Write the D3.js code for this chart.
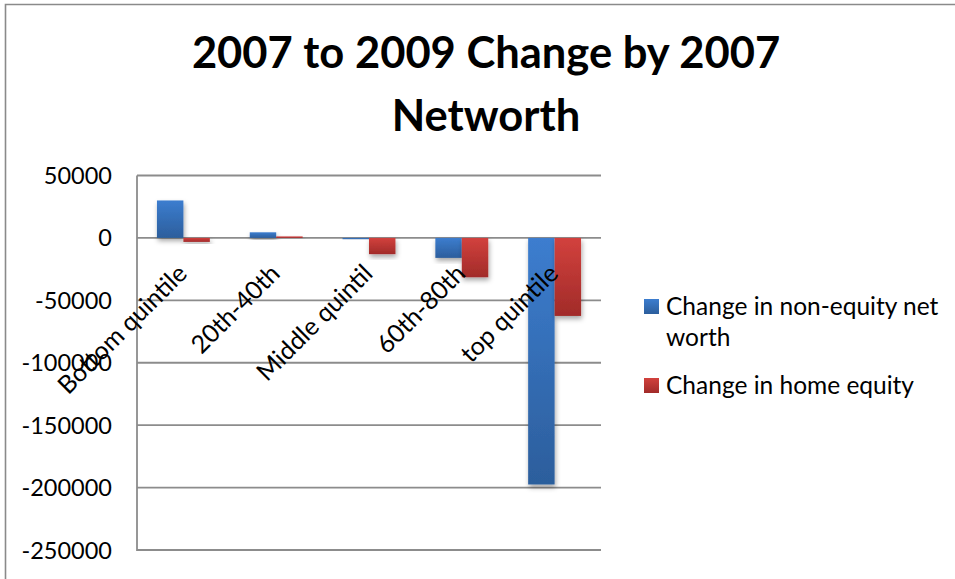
<!DOCTYPE html>
<html>
<head>
<meta charset="utf-8">
<script src="https://d3js.org/d3.v7.min.js"></script>
<style>
  html, body { margin: 0; padding: 0; background: #fff; }
  svg { display: block; font-family: Lato, "Open Sans", sans-serif; }
</style>
</head>
<body>
<svg id="chart" width="955" height="579"></svg>
<script>
// Quintiles of 2007 net worth
const categories = ["Bottom quintile", "20th-40th", "Middle quintil", "60th-80th", "top quintile"];
// Change from 2007 to 2009, dollars
const nonEquityChange = [30000, 4500, -1000, -16000, -197500];
const homeEquityChange = [-3200, 1200, -13000, -31500, -62500];
const seriesNames = ["Change in non-equity net worth", "Change in home equity"];
const yTicks = [50000, 0, -50000, -100000, -150000, -200000, -250000];
const titleLines = ["2007 to 2009 Change by 2007", "Networth"];

const svg = d3.select("#chart");
const plot = { left: 137, right: 601, top: 175.5, bottom: 550 };

const defs = svg.append("defs");
function gradient(id, top, bottom) {
  const g = defs.append("linearGradient").attr("id", id)
    .attr("x1", 0).attr("y1", 0).attr("x2", 0).attr("y2", 1);
  g.append("stop").attr("offset", "0%").attr("stop-color", top);
  g.append("stop").attr("offset", "100%").attr("stop-color", bottom);
}
gradient("gBlue", "#3c7dcf", "#2c5e9c");
gradient("gRed", "#d2413d", "#a12b29");
const colors = ["url(#gBlue)", "url(#gRed)"];

const shadow = defs.append("filter").attr("id", "barShadow")
  .attr("x", "-30%").attr("y", "-30%").attr("width", "160%").attr("height", "160%");
shadow.append("feDropShadow").attr("dx", 1).attr("dy", 3).attr("stdDeviation", 2.5)
  .attr("flood-color", "#000").attr("flood-opacity", 0.35);

// outer chart frame
svg.append("path").attr("d", "M5.5,579 V4.5 H955")
  .attr("fill", "none").attr("stroke", "#8a8a8a").attr("stroke-width", 1.6);

const y = d3.scaleLinear().domain([-250000, 50000]).range([plot.bottom, plot.top]);
const x0 = d3.scaleBand().domain(categories).range([plot.left, plot.right])
  .paddingInner(0.43).paddingOuter(0.215);
const x1 = d3.scaleBand().domain([0, 1]).range([0, x0.bandwidth()]);

// gridlines
svg.append("g").selectAll("line").data(yTicks).join("line")
  .attr("x1", plot.left).attr("x2", plot.right)
  .attr("y1", d => y(d)).attr("y2", d => y(d))
  .attr("stroke", "#8c8c8c").attr("stroke-width", 1.8);

// value axis, plain hyphen for negatives
const yAxis = d3.axisLeft(y).tickValues(yTicks).tickSize(0).tickPadding(0)
  .tickFormat(d => String(d));
const yg = svg.append("g").attr("transform", `translate(112,0)`).call(yAxis);
yg.select(".domain").remove();
yg.selectAll("text").attr("font-size", 23.5).attr("fill", "#000")
  .attr("font-family", "Lato, sans-serif").attr("dy", "0.34em");

svg.append("line").attr("x1", plot.left).attr("x2", plot.left)
  .attr("y1", plot.top).attr("y2", plot.bottom + 1)
  .attr("stroke", "#8c8c8c").attr("stroke-width", 1.8);

// bars
const rows = categories.map((c, i) => ({ c, vals: [nonEquityChange[i], homeEquityChange[i]] }));
const groups = svg.append("g").selectAll("g").data(rows).join("g")
  .attr("transform", d => `translate(${x0(d.c)},0)`);
groups.selectAll("rect").data(d => d.vals.map((v, k) => ({ v, k }))).join("rect")
  .attr("x", d => x1(d.k))
  .attr("width", x1.bandwidth())
  .attr("y", d => y(Math.max(0, d.v)))
  .attr("height", d => Math.abs(y(d.v) - y(0)))
  .attr("fill", d => colors[d.k])
  .attr("filter", "url(#barShadow)");

// category labels, rotated
svg.append("g").selectAll("text").data(categories).join("text")
  .attr("transform", d => `translate(${x0(d) + x0.bandwidth() / 2 - 1},${y(0) + 31}) rotate(-45)`)
  .attr("text-anchor", "end").attr("dy", "0.35em")
  .attr("font-size", 25).attr("fill", "#000")
  .text(d => d);

// title
svg.append("g").selectAll("text").data(titleLines).join("text")
  .attr("x", 486).attr("y", (d, i) => i === 0 ? 68 : 131)
  .attr("text-anchor", "middle").attr("font-weight", "bold")
  .attr("font-size", 43.5).attr("fill", "#000")
  .text(d => d);

// legend
const legend = svg.append("g").attr("transform", "translate(644,0)");
const legendRows = [
  { lines: ["Change in non-equity net", "worth"], top: 299, k: 0 },
  { lines: ["Change in home equity"], top: 378, k: 1 }
];
legendRows.forEach(r => {
  legend.append("rect").attr("x", 0).attr("y", r.top).attr("width", 15).attr("height", 15)
    .attr("fill", colors[r.k]);
  legend.append("g").selectAll("text").data(r.lines).join("text")
    .attr("x", 22).attr("y", (d, i) => r.top + 16 + i * 31)
    .attr("font-size", 24.5).attr("fill", "#000")
    .text(d => d);
});
</script>
</body>
</html>
